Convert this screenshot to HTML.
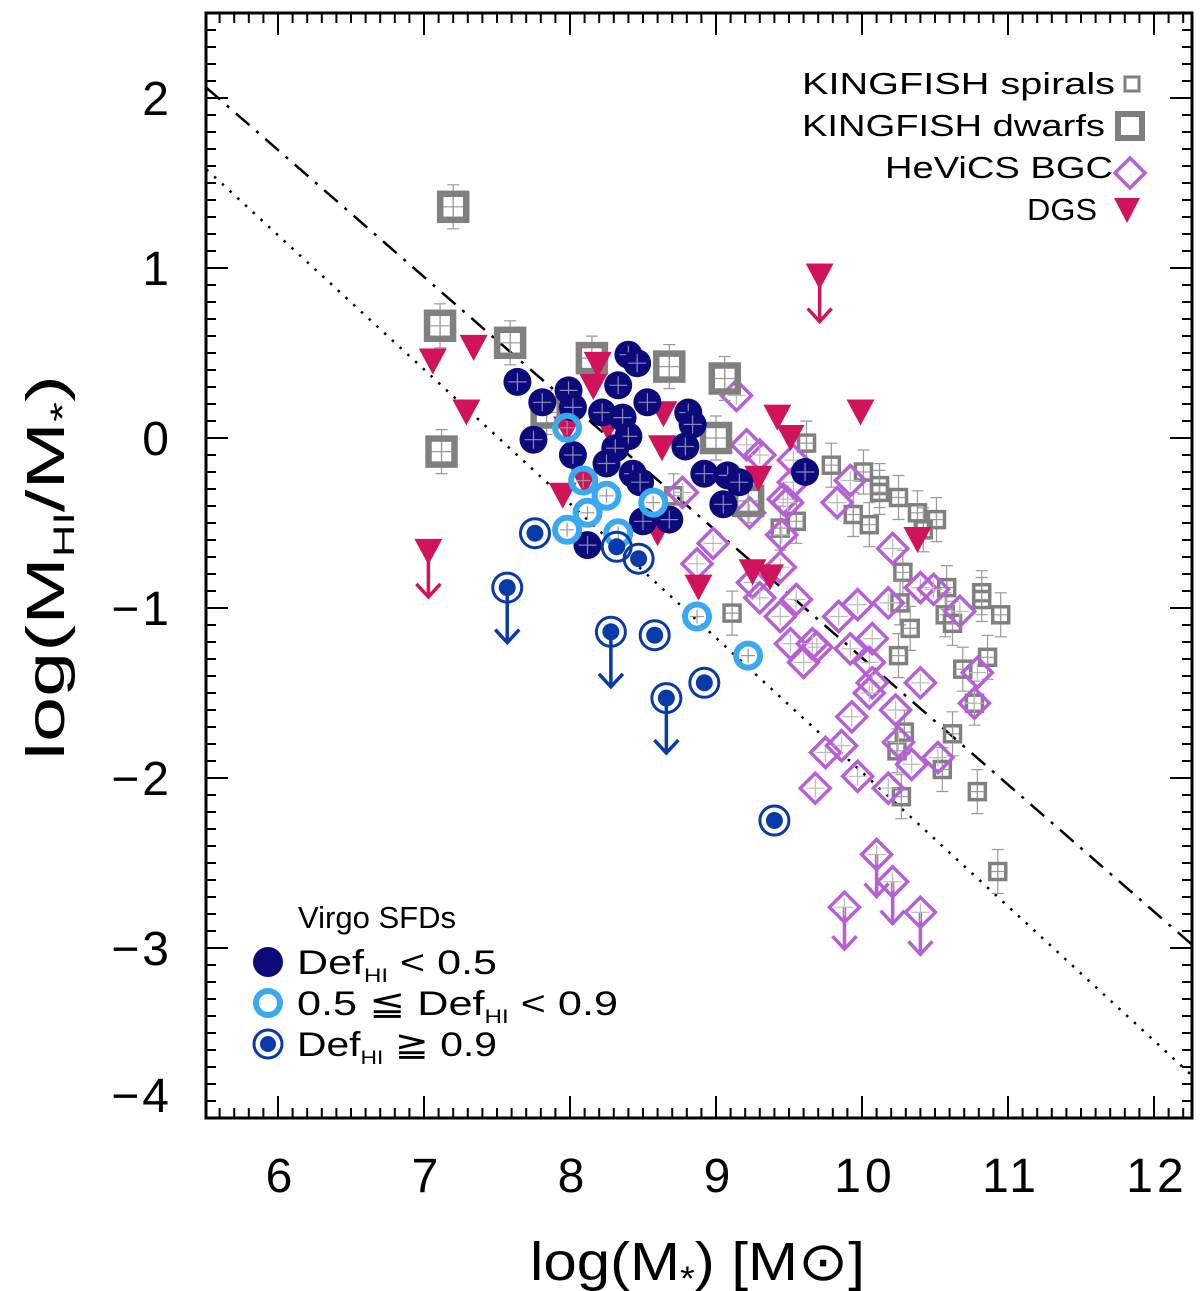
<!DOCTYPE html>
<html><head><meta charset="utf-8"><style>
body{margin:0;background:#fff;}
svg{display:block;font-family:"Liberation Sans",sans-serif;}
</style></head><body>
<svg id="chart" width="1200" height="1291" viewBox="0 0 1200 1291">
<g id="lines"></g>
<g id="marks"></g>
<rect x="206" y="13" width="986" height="1105" fill="none" stroke="#000" stroke-width="3"/>
<g id="axes"></g>
<text x="530" y="1280" font-size="54" textLength="335" lengthAdjust="spacingAndGlyphs">log(M<tspan font-size="34" dy="10">*</tspan><tspan dy="-10">)  [M</tspan><tspan>⊙</tspan>]</text>
<text transform="translate(64,760) rotate(-90)" font-size="54" textLength="385" lengthAdjust="spacingAndGlyphs">log(M<tspan font-size="30" dy="10">HI</tspan><tspan dy="-10">/M</tspan><tspan font-size="34" dy="10">*</tspan><tspan dy="-10">)</tspan></text>
<g id="legend-top" font-size="31">
<text x="802" y="94" textLength="313" lengthAdjust="spacingAndGlyphs">KINGFISH spirals</text>
<text x="802" y="136" textLength="303" lengthAdjust="spacingAndGlyphs">KINGFISH dwarfs</text>
<text x="885" y="178" textLength="228" lengthAdjust="spacingAndGlyphs">HeViCS BGC</text>
<text x="1027" y="220" textLength="70" lengthAdjust="spacingAndGlyphs">DGS</text>
<rect x="1125" y="77" width="14" height="14" fill="none" stroke="#7f7f7f" stroke-width="3"/>
<rect x="1118" y="114" width="24" height="24" fill="none" stroke="#7f7f7f" stroke-width="6"/>
<polygon points="1130,158 1145,173 1130,188 1115,173" fill="none" stroke="#b65fd6" stroke-width="3.5"/>
<polygon points="1114,198 1140,198 1127,223" fill="#d0135a"/>
</g>
<g id="legend-bottom" font-size="34">
<text x="298" y="928" font-size="31" textLength="158" lengthAdjust="spacingAndGlyphs">Virgo SFDs</text>
<circle cx="268" cy="962" r="15" fill="#0a0a7a"/>
<text x="297" y="974" textLength="200" lengthAdjust="spacingAndGlyphs">Def<tspan font-size="19" dy="8">HI</tspan><tspan dy="-8">  &lt;  0.5</tspan></text>
<circle cx="268" cy="1003" r="12" fill="none" stroke="#3aaaf0" stroke-width="6"/>
<text x="297" y="1015" textLength="321" lengthAdjust="spacingAndGlyphs">0.5  ≦  Def<tspan font-size="19" dy="8">HI</tspan><tspan dy="-8">  &lt;  0.9</tspan></text>
<circle cx="268" cy="1044" r="14" fill="none" stroke="#0a3aa8" stroke-width="3"/>
<circle cx="268" cy="1044" r="8" fill="#0a3aa8"/>
<text x="297" y="1056" textLength="200" lengthAdjust="spacingAndGlyphs">Def<tspan font-size="19" dy="8">HI</tspan><tspan dy="-8">  ≧  0.9</tspan></text>
</g>
</svg>
<script>
const xTicks=[6,7,8,9,10,11,12];
const yTicks=[2,1,0,-1,-2,-3,-4];
const spiralX=[9.62,9.79,10.01,10.12,10.12,10.25,10.38,10.51,10.42,9.94,10.05,9.55,9.44,8.71,9.11,10.28,10.58,10.82,10.82,10.95,10.26,10.33,10.25,10.86,10.69,10.77,10.29,10.62,10.24,10.55,10.79,10.27,10.93,10.57,10.62];
const spiralY=[-0.03,-0.16,-0.20,-0.28,-0.32,-0.35,-0.44,-0.48,-0.54,-0.45,-0.51,-0.49,-0.53,-0.34,-1.03,-0.79,-0.88,-0.91,-0.95,-1.04,-0.97,-1.12,-1.28,-1.29,-1.36,-1.56,-1.73,-1.74,-1.84,-1.95,-2.08,-2.11,-2.55,-1.04,-1.09];
const dwarfX=[7.20,7.11,7.12,7.59,8.15,8.68,9.06,9.00,7.84,9.22];
const dwarfY=[1.36,0.66,-0.08,0.56,0.47,0.42,0.35,0.00,0.15,-0.37];
const bgcX=[9.14,9.21,9.30,9.53,9.53,9.46,9.23,8.98,8.87,8.77,9.49,9.92,9.83,10.21,9.45,9.44,9.25,9.30,9.55,9.44,9.51,9.60,9.69,9.66,9.84,9.97,10.18,10.40,10.49,10.67,9.92,10.07,10.05,10.07,10.05,10.40,10.23,9.93,9.75,9.86,10.25,10.34,10.52,9.97,9.68,10.18,10.77,10.79];
const bgcY=[0.25,-0.04,-0.10,-0.13,-0.26,-0.36,-0.44,-0.62,-0.74,-0.32,-0.38,-0.25,-0.38,-0.65,-0.57,-0.76,-0.85,-0.94,-0.95,-1.05,-1.21,-1.32,-1.23,-1.21,-1.05,-0.98,-0.97,-0.88,-0.89,-1.02,-1.24,-1.18,-1.32,-1.44,-1.50,-1.44,-1.60,-1.64,-1.85,-1.81,-1.79,-1.92,-1.88,-1.99,-2.06,-2.06,-1.56,-1.38];
const bgcLimX=[10.10,10.21,9.88,10.40];
const bgcLimY=[-2.45,-2.61,-2.76,-2.79];
const dgsX=[7.06,7.34,7.29,8.19,8.16,8.26,8.64,8.63,7.98,7.95,8.10,8.60,9.42,9.51,9.25,9.37,8.88,9.29,9.99,10.38];
const dgsY=[0.45,0.53,0.15,0.43,0.30,0.06,0.14,-0.06,0.05,-0.34,-0.26,-0.56,0.12,0.00,-0.79,-0.82,-0.88,-0.24,0.15,-0.60];
const dgsLimX=[9.71,7.03];
const dgsLimY=[0.95,-0.67];
const lowX=[7.64,7.81,7.99,8.02,8.22,8.40,8.46,8.33,8.36,8.53,8.40,8.31,8.25,8.43,8.02,7.75,8.81,8.84,8.79,8.92,9.08,9.16,9.05,9.61,8.50,8.68,8.12,8.48];
const lowY=[0.33,0.21,0.28,0.18,0.15,0.49,0.44,0.31,0.12,0.21,0.01,-0.06,-0.15,-0.21,-0.10,-0.01,0.15,0.08,-0.05,-0.21,-0.22,-0.26,-0.39,-0.20,-0.49,-0.48,-0.63,-0.26];
const midX=[7.98,8.09,8.25,8.12,7.98,8.33,8.57,8.87,9.22];
const midY=[0.06,-0.25,-0.34,-0.44,-0.54,-0.56,-0.38,-1.05,-1.28];
const highX=[7.76,8.32,8.47,8.58,8.92,9.40];
const highY=[-0.56,-0.64,-0.71,-1.16,-1.44,-2.25];
const highLimX=[7.57,8.28,8.66];
const highLimY=[-0.88,-1.14,-1.53];
const dashLine=[[5.51,2.06],[12.26,-2.98]];
const dotLine=[[5.51,1.58],[12.26,-3.75]];

const NS='http://www.w3.org/2000/svg';
const X=v=>278+(v-6)*146;
const Y=v=>438-v*170;
function mk(parent,tag,attrs){const e=document.createElementNS(NS,tag);for(const k in attrs)e.setAttribute(k,attrs[k]);parent.appendChild(e);return e;}
const axes=document.getElementById('axes'),marks=document.getElementById('marks'),lines=document.getElementById('lines');

for(let v=5.6;v<=12.25;v+=0.1){const x=X(v);const major=Math.abs(v-Math.round(v))<0.01;const L=major?22:10;
mk(axes,'line',{x1:x,x2:x,y1:1118,y2:1118-L,stroke:'#000','stroke-width':2});
mk(axes,'line',{x1:x,x2:x,y1:13,y2:13+L,stroke:'#000','stroke-width':2});}
for(let v=-3.9;v<=2.45;v+=0.1){const y=Y(v);const major=Math.abs(v-Math.round(v))<0.01;const L=major?22:10;
mk(axes,'line',{x1:206,x2:206+L,y1:y,y2:y,stroke:'#000','stroke-width':2});
mk(axes,'line',{x1:1192,x2:1192-L,y1:y,y2:y,stroke:'#000','stroke-width':2});}
xTicks.forEach(t=>{const e=mk(axes,'text',{x:X(t)+3,y:1192,'font-size':48,'text-anchor':'middle','letter-spacing':4});e.textContent=String(t);

});
yTicks.forEach(t=>{const yy=t===-4?1112:Y(t)+17;const e=mk(axes,'text',{x:172,y:yy,'font-size':48,'text-anchor':'end','letter-spacing':3});e.textContent=t<0?'−'+Math.abs(t):String(t);

});

let l1=mk(lines,'line',{x1:X(dashLine[0][0]),y1:Y(dashLine[0][1]),x2:X(dashLine[1][0]),y2:Y(dashLine[1][1]),stroke:'#000','stroke-width':2.5,'stroke-dasharray':'18 9 3 9'});


let l2=mk(lines,'line',{x1:X(dotLine[0][0]),y1:Y(dotLine[0][1]),x2:X(dotLine[1][0]),y2:Y(dotLine[1][1]),stroke:'#000','stroke-width':2.5,'stroke-dasharray':'2.5 8'});



function err(x,y,h){mk(marks,'path',{d:`M${x},${y-h}V${y+h}M${x-6},${y-h}H${x+6}M${x-6},${y+h}H${x+6}`,stroke:'#999','stroke-width':1.2,fill:'none'});}
function cross(x,y,s,c){mk(marks,'path',{d:`M${x-s},${y}H${x+s}M${x},${y-s}V${y+s}`,stroke:c,'stroke-width':1.2,fill:'none'});}
function arrow(x,y,c,len){mk(marks,'path',{d:`M${x},${y}V${y+len}M${x-12},${y+len-13}L${x},${y+len}L${x+12},${y+len-13}`,stroke:c,'stroke-width':3.5,fill:'none'});}

spiralX.forEach((v,i)=>{const x=X(v),y=Y(spiralY[i]);err(x,y,22);
const e=mk(marks,'rect',{x:x-8,y:y-8,width:16,height:16,fill:'none',stroke:'#808080','stroke-width':3.5});

cross(x,y,7,'#999');});
function diamond(x,y){const e=mk(marks,'polygon',{points:`${x},${y-15} ${x+15},${y} ${x},${y+15} ${x-15},${y}`,fill:'none',stroke:'#b65fd6','stroke-width':3.5});

cross(x,y,9,'#bbb');}
bgcX.forEach((v,i)=>diamond(X(v),Y(bgcY[i])));
bgcLimX.forEach((v,i)=>{const x=X(v),y=Y(bgcLimY[i]);arrow(x,y,'#b65fd6',42);diamond(x,y);});
dwarfX.forEach((v,i)=>{const x=X(v),y=Y(dwarfY[i]);err(x,y,22);
const e=mk(marks,'rect',{x:x-13,y:y-13,width:26,height:26,fill:'none',stroke:'#808080','stroke-width':6.5});

cross(x,y,10,'#999');});
function tri(x,y){const e=mk(marks,'polygon',{points:`${x-14},${y-13} ${x+14},${y-13} ${x},${y+13}`,fill:'#d0135a'});

}
dgsX.forEach((v,i)=>{tri(X(v),Y(dgsY[i]));});
dgsLimX.forEach((v,i)=>{const x=X(v),y=Y(dgsLimY[i]);arrow(x,y,'#d0135a',45);tri(x,y);});
lowX.forEach((v,i)=>{const x=X(v),y=Y(lowY[i]);
const e=mk(marks,'circle',{cx:x,cy:y,r:14,fill:'#0a0a7a'});

cross(x,y,9,'#8888bb');});
midX.forEach((v,i)=>{const x=X(v),y=Y(midY[i]);
const e=mk(marks,'circle',{cx:x,cy:y,r:12,fill:'none',stroke:'#3aaaf0','stroke-width':6});

cross(x,y,7,'#999');});
function hi(x,y){const e=mk(marks,'circle',{cx:x,cy:y,r:14.5,fill:'none',stroke:'#0a3aa8','stroke-width':3});


mk(marks,'circle',{cx:x,cy:y,r:8.5,fill:'#0a3aa8'});}
highX.forEach((v,i)=>hi(X(v),Y(highY[i])));
highLimX.forEach((v,i)=>{const x=X(v),y=Y(highLimY[i]);arrow(x,y,'#0a3aa8',55);hi(x,y);});
</script>
</body></html>
